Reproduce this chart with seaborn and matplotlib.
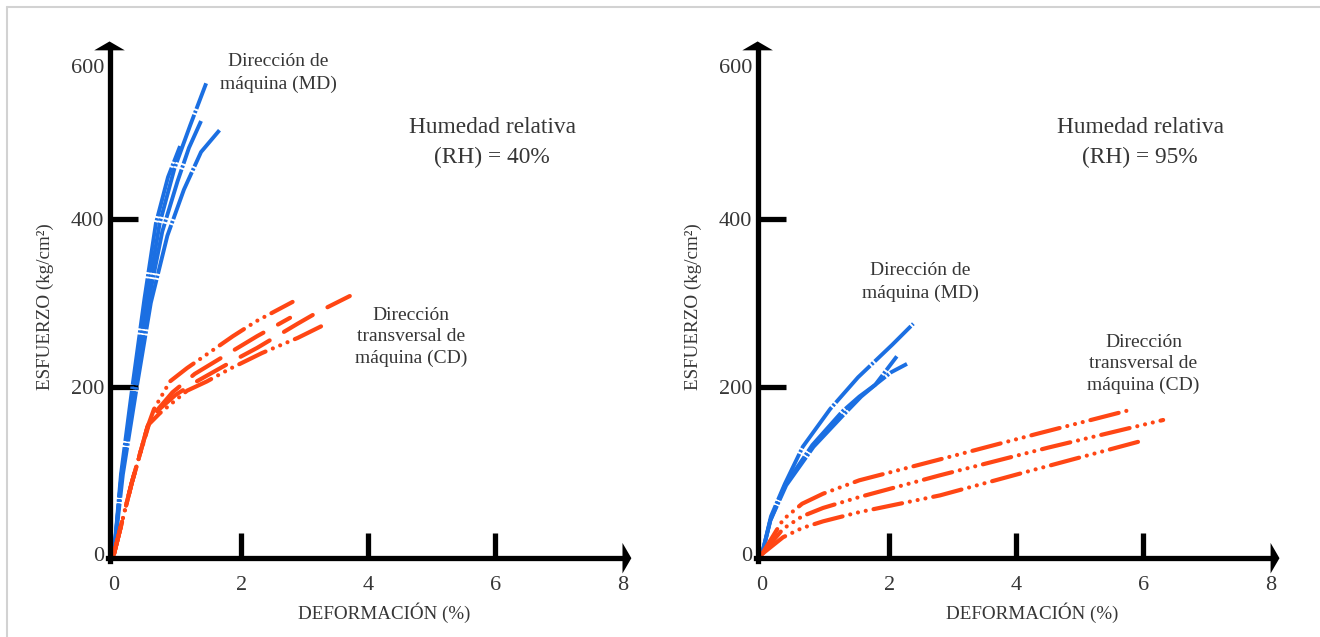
import matplotlib.pyplot as plt
from matplotlib.lines import Line2D
import seaborn as sns

# ---- RH = 40 % (panel izquierdo) ----
# direccion de maquina (MD)
md40_a_x = [0, 0.12, 0.32, 0.52, 0.72, 0.95, 1.20, 1.45]
md40_a_y = [0, 95, 200, 305, 395, 460, 512, 562]
md40_b_x = [0, 0.11, 0.29, 0.48, 0.66, 0.85, 1.04]
md40_b_y = [0, 95, 200, 305, 395, 450, 487]
md40_c_x = [0, 0.12, 0.33, 0.55, 0.76, 1.00, 1.18, 1.37]
md40_c_y = [0, 95, 200, 305, 385, 445, 485, 517]
md40_d_x = [0, 0.14, 0.36, 0.58, 0.84, 1.10, 1.37, 1.66]
md40_d_y = [0, 95, 200, 300, 380, 435, 480, 506]
# direccion transversal (CD)
cd40_a_x = [0, 0.28, 0.52, 0.63, 0.88, 1.15, 1.51, 1.87, 2.24, 2.81]
cd40_a_y = [0, 85, 150, 173, 206, 222, 241, 260, 278, 301]
cd40_b_x = [0, 0.28, 0.53, 0.66, 0.92, 1.27, 1.90, 2.25, 2.77]
cd40_b_y = [0, 85, 152, 170, 193, 215, 244, 260, 282]
cd40_c_x = [0, 0.28, 0.54, 0.70, 0.97, 1.30, 1.93, 2.25, 2.89, 3.21, 3.71]
cd40_c_y = [0, 85, 155, 172, 190, 206, 233, 246, 275, 289, 308]
cd40_d_x = [0, 0.28, 0.55, 0.72, 1.15, 1.46, 1.82, 2.33, 2.89, 3.29]
cd40_d_y = [0, 85, 155, 168, 195, 206, 221, 240, 258, 273]

# ---- RH = 95 % (panel derecho) ----
md95_a_x = [0, 0.14, 0.36, 0.64, 1.07, 1.51, 2.05, 2.38]
md95_a_y = [0, 45, 84, 128, 173, 211, 250, 275]
md95_b_x = [0, 0.13, 0.36, 0.79, 1.26, 1.53, 1.78, 2.12]
md95_b_y = [0, 40, 82, 130, 170, 188, 202, 236]
md95_c_x = [0, 0.13, 0.38, 0.81, 1.28, 1.56, 1.78, 2.03, 2.28]
md95_c_y = [0, 40, 82, 128, 166, 188, 202, 217, 227]
cd95_a_x = [0, 0.33, 0.63, 0.96, 1.53, 2.80, 4.30, 5.84]
cd95_a_y = [0, 41, 60, 72, 88, 113, 143, 173]
cd95_b_x = [0, 0.33, 0.63, 0.96, 1.53, 2.80, 4.50, 6.31]
cd95_b_y = [0, 30, 45, 55, 68, 94, 127, 160]
cd95_c_x = [0, 0.33, 0.63, 0.96, 1.53, 2.80, 4.30, 5.92]
cd95_c_y = [0, 20, 31, 39, 50, 70, 101, 134]

x_ticks = [0, 2, 4, 6, 8]
y_ticks = [0, 200, 400, 583]
y_ticklabels = ['0', '200', '400', '600']

BLUE = '#1b6fe2'
RED = '#ff4614'
TXT = '#363636'

sty_md = dict(color=BLUE, lw=2.8, linestyle=(0, (13, 0.5, 0.6, 0.5)), dash_capstyle='butt', solid_capstyle='round')
sty_dots = dict(color=RED, lw=3, linestyle=(0, (7, 1.9, 0.01, 1.9, 0.01, 1.9, 0.01, 1.9)), dash_capstyle='round')
sty_dash = dict(color=RED, lw=3, linestyle=(0, (8, 4)), dash_capstyle='round')

panel40 = [(md40_a_x, md40_a_y, sty_md), (md40_b_x, md40_b_y, sty_md),
           (md40_c_x, md40_c_y, sty_md), (md40_d_x, md40_d_y, sty_md),
           (cd40_a_x, cd40_a_y, sty_dots), (cd40_b_x, cd40_b_y, sty_dash),
           (cd40_c_x, cd40_c_y, sty_dash), (cd40_d_x, cd40_d_y, sty_dots)]
panel95 = [(md95_a_x, md95_a_y, sty_md), (md95_b_x, md95_b_y, sty_md),
           (md95_c_x, md95_c_y, sty_md),
           (cd95_a_x, cd95_a_y, sty_dots), (cd95_b_x, cd95_b_y, sty_dots),
           (cd95_c_x, cd95_c_y, sty_dots)]

sns.set_theme(style='white')
plt.rcParams['font.family'] = ['Liberation Serif', 'DejaVu Serif']

W, H = 1320, 637
fig = plt.figure(figsize=(W / 100, H / 100), dpi=100)


def setup_axes(ax):
    ax.set_xlim(-0.3, 8.4)
    ax.set_ylim(-20, 640)
    for s in ['top', 'right']:
        ax.spines[s].set_visible(False)
    for s in ['left', 'bottom']:
        ax.spines[s].set_color('black')
        ax.spines[s].set_linewidth(3.8)
    ax.spines['left'].set_position(('data', -0.07))
    ax.spines['left'].set_bounds(-8, 603)
    ax.spines['bottom'].set_position(('data', -5))
    ax.spines['bottom'].set_bounds(-0.1, 8.0)
    ax.set_xticks(x_ticks)
    ax.set_xticklabels([str(t) for t in x_ticks])
    ax.set_yticks(y_ticks)
    ax.set_yticklabels(y_ticklabels)
    ax.tick_params(axis='x', direction='in', length=18, width=3.8, pad=13,
                   labelsize=16, labelcolor=TXT, color='black', bottom=True)
    ax.tick_params(axis='y', direction='in', length=20, width=3.8, pad=4,
                   labelsize=16, labelcolor=TXT, color='black', left=True)
    xt = ax.xaxis.get_major_ticks()
    xt[0].tick1line.set_visible(False)
    xt[-1].tick1line.set_visible(False)
    yt = ax.yaxis.get_major_ticks()
    yt[0].tick1line.set_visible(False)
    yt[-1].tick1line.set_visible(False)
    # flechas de los ejes
    head = dict(arrowstyle='-|>,head_length=0.32,head_width=0.55', mutation_scale=20,
                lw=0, color='black', shrinkA=0, shrinkB=0)
    ax.annotate('', xy=(-0.07, 612), xytext=(-0.07, 590), arrowprops=head, annotation_clip=False)
    ax.annotate('', xy=(8.14, -5), xytext=(7.9, -5), arrowprops=head, annotation_clip=False)
    ax.set_xlabel('DEFORMACIÓN (%)', fontsize=13.7, color=TXT)
    ax.xaxis.set_label_coords(0.523, -0.076)
    ax.xaxis.label.set_va('center')
    ax.set_ylabel('ESFUERZO (kg/cm²)', fontsize=13.7, color=TXT)
    ax.yaxis.set_label_coords(-0.09, 0.477)
    ax.yaxis.label.set_va('center')
    ax.grid(False)


ax1 = fig.add_axes([94.9 / W, 66.25 / H, 553 / W, 552.75 / H])
ax2 = fig.add_axes([743 / W, 66.25 / H, 553 / W, 552.75 / H])
ax1.patch.set_alpha(0)
ax2.patch.set_alpha(0)

for ax, curves in [(ax1, panel40), (ax2, panel95)]:
    for xs, ys, sty in curves:
        sns.lineplot(x=xs, y=ys, ax=ax, sort=False, estimator=None, **sty)
    setup_axes(ax)

# textos
ax1.text(2.58, 574, 'Dirección de\nmáquina (MD)', ha='center', va='center', fontsize=14,
         color=TXT, linespacing=1.4)
ax1.text(5.95, 491, 'Humedad relativa\n(RH) = 40%', ha='center', va='center', fontsize=16.8,
         color=TXT, linespacing=1.55)
ax1.text(4.67, 259, 'Dirección\ntransversal de\nmáquina (CD)', ha='center', va='center',
         fontsize=14, color=TXT, linespacing=1.35)
ax2.text(5.95, 491, 'Humedad relativa\n(RH) = 95%', ha='center', va='center', fontsize=16.8,
         color=TXT, linespacing=1.55)
ax2.text(2.49, 325, 'Dirección de\nmáquina (MD)', ha='center', va='center', fontsize=14,
         color=TXT, linespacing=1.4)
ax2.text(6.0, 227, 'Dirección\ntransversal de\nmáquina (CD)', ha='center', va='center',
         fontsize=14, color=TXT, linespacing=1.35)

# marco gris
fig.add_artist(Line2D([7 / W, 7 / W], [0, 1 - 7 / H], color='#d2d2d2', lw=1.5))
fig.add_artist(Line2D([7 / W, 1], [1 - 7 / H, 1 - 7 / H], color='#d2d2d2', lw=1.5))

fig.savefig('out.png', dpi=100)
